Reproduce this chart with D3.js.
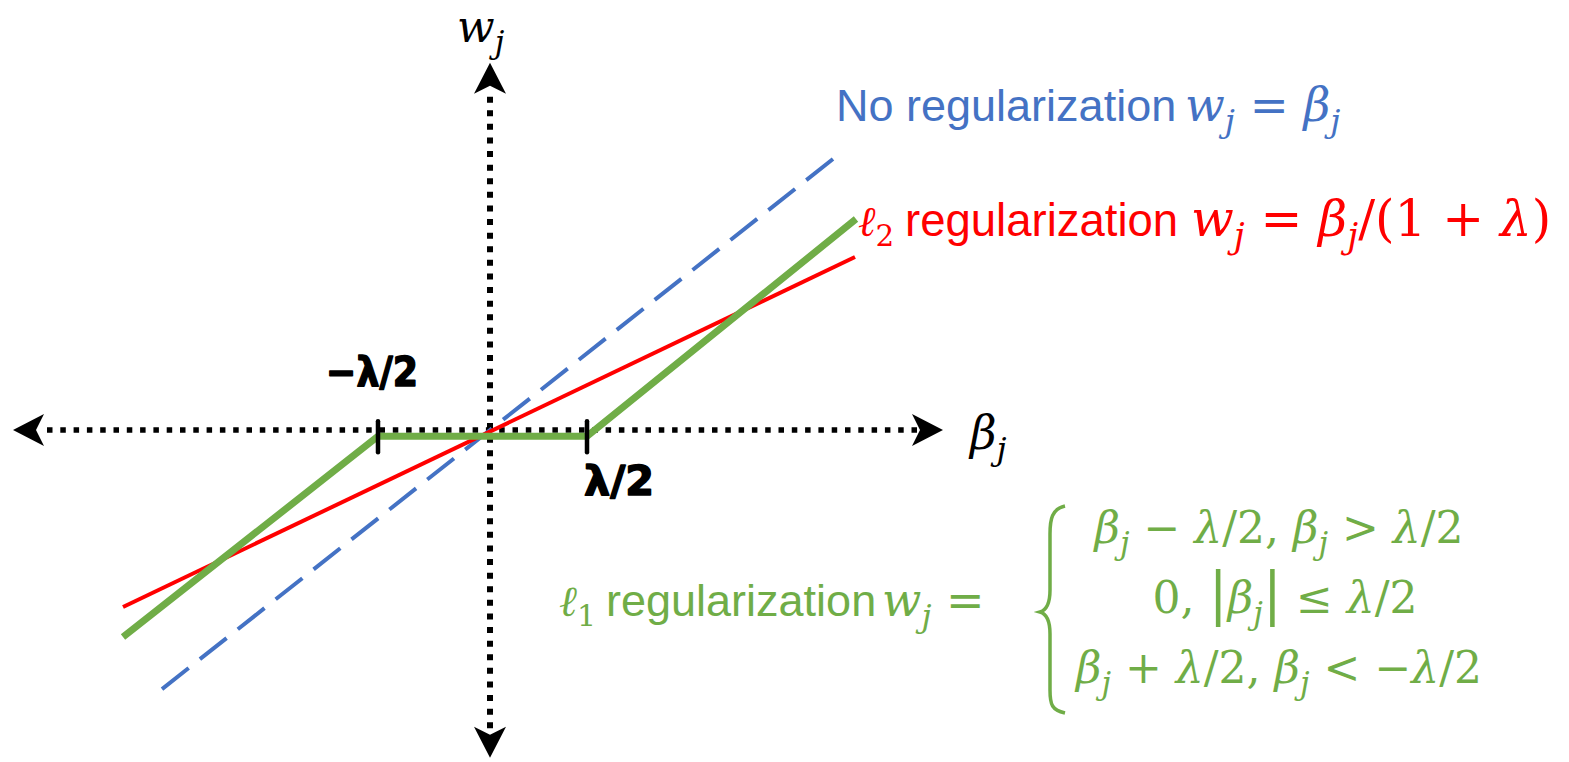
<!DOCTYPE html>
<html>
<head>
<meta charset="utf-8">
<script src="https://cdn.jsdelivr.net/npm/d3@7"></script>
<style>
  html, body { margin: 0; padding: 0; background: #ffffff; }
  svg { display: block; }
</style>
</head>
<body>
<svg id="chart" width="1569" height="762"></svg>
<script>
// ---- data (β on the horizontal axis, w on the vertical axis) ----
const noRegLine   = [[-3.28, -3.28], [3.44, 3.44]];
const ridgeLine   = [[-3.67, -2.24], [3.65, 2.19]];
const lassoLine   = [[-3.67, -2.62], [-1.12, -0.08], [0.97, -0.08], [3.66, 2.67]];
const tickValues  = [-1.12, 0.97];
const tickLabels  = ["−λ/2", "λ/2"];
const axisXExtent = [-4.77, 4.53];
const axisYExtent = [-4.15, 4.65];

const COLORS = { blue: "#4472C4", red: "#FF0000", green: "#70AD47", ink: "#000000" };
const SANS = "'Liberation Sans', Arial, sans-serif";
const MATH = "'DejaVu Serif', 'Liberation Serif', serif";
const HAND = "'DejaVu Sans', sans-serif";

const svg = d3.select("#chart");

// scales: origin of the plot sits where the two axes cross
const x = d3.scaleLinear().domain([0, 1]).range([490, 590]);
const y = d3.scaleLinear().domain([0, 1]).range([430, 351]);

// ---- arrow-tipped dotted axes ----
function arrowHead(tx, ty, angle) {
  // notched arrow head pointing in direction `angle` (radians)
  const L = 31, H = 16, N = 8;
  const c = Math.cos(angle), s = Math.sin(angle);
  const pt = (u, v) => [tx - u * c - v * s, ty - u * s + v * c];
  const p = [pt(0, 0), pt(L, -H), pt(L - N, 0), pt(L, H)];
  return "M" + p.map(d => d.join(",")).join("L") + "Z";
}

const axes = svg.append("g").attr("class", "axes");
const x0 = x(axisXExtent[0]), x1 = x(axisXExtent[1]);
const y0 = y(axisYExtent[0]), y1 = y(axisYExtent[1]);

axes.append("line")
  .attr("x1", x0 + 34).attr("x2", x1 - 24)
  .attr("y1", y(0)).attr("y2", y(0))
  .attr("stroke", COLORS.ink).attr("stroke-width", 5.5)
  .attr("stroke-dasharray", "5.5,7.8");
axes.append("line")
  .attr("x1", x(0)).attr("x2", x(0))
  .attr("y1", y1 + 34).attr("y2", y0 - 26)
  .attr("stroke", COLORS.ink).attr("stroke-width", 6)
  .attr("stroke-dasharray", "6,7.6");

axes.append("path").attr("d", arrowHead(x0, y(0), Math.PI)).attr("fill", COLORS.ink);
axes.append("path").attr("d", arrowHead(x1, y(0), 0)).attr("fill", COLORS.ink);
axes.append("path").attr("d", arrowHead(x(0), y1, -Math.PI / 2)).attr("fill", COLORS.ink);
axes.append("path").attr("d", arrowHead(x(0), y0, Math.PI / 2)).attr("fill", COLORS.ink);

// ---- lines ----
const line = d3.line().x(d => x(d[0])).y(d => y(d[1]));

svg.append("path").datum(noRegLine)
  .attr("d", line).attr("fill", "none")
  .attr("stroke", COLORS.blue).attr("stroke-width", 4)
  .attr("stroke-dasharray", "34,14.3");

svg.append("path").datum(ridgeLine)
  .attr("d", line).attr("fill", "none")
  .attr("stroke", COLORS.red).attr("stroke-width", 4);

svg.append("path").datum(lassoLine)
  .attr("d", line).attr("fill", "none")
  .attr("stroke", COLORS.green).attr("stroke-width", 7)
  .attr("stroke-linejoin", "miter");

// ---- ±λ/2 ticks and hand-lettered labels ----
const flatW = lassoLine[1][1];
svg.selectAll("line.tick").data(tickValues).join("line")
  .attr("class", "tick")
  .attr("x1", d => x(d)).attr("x2", d => x(d))
  .attr("y1", y(flatW) - 15).attr("y2", y(flatW) + 16)
  .attr("stroke", COLORS.ink).attr("stroke-width", 4.5)
  .attr("stroke-linecap", "round");

svg.selectAll("text.ticklab").data(tickValues).join("text")
  .attr("class", "ticklab")
  .attr("x", (d, i) => i === 0 ? x(d) - 52 : x(d) - 3)
  .attr("y", (d, i) => i === 0 ? 386 : 495)
  .attr("font-family", HAND).attr("font-weight", "bold")
  .attr("font-size", 40)
  .attr("textLength", (d, i) => i === 0 ? 92 : 70)
  .attr("lengthAdjust", "spacingAndGlyphs")
  .attr("fill", COLORS.ink).attr("stroke", COLORS.ink).attr("stroke-width", 1.5)
  .attr("stroke-linejoin", "round")
  .text((d, i) => tickLabels[i]);

// ---- mixed text / math labels ----
// parts: [text, kind] where kind is "sans", "it" (math italic), "up" (math upright),
// "sub"/"subup" (subscript) or "big" (tall delimiter).
function richText(sel, xPos, yPos, color, size, parts, anchor) {
  const t = sel.append("text")
    .attr("x", xPos).attr("y", yPos)
    .attr("fill", color)
    .attr("text-anchor", anchor || "start");
  let shift = 0;
  parts.forEach(([str, kind]) => {
    const sp = t.append("tspan").text(str);
    let target = 0;
    if (kind === "sans") {
      sp.attr("font-family", SANS).attr("font-size", size);
    } else if (kind === "it") {
      sp.attr("font-family", MATH).attr("font-style", "italic").attr("font-size", size);
    } else if (kind === "up") {
      sp.attr("font-family", MATH).attr("font-size", size);
    } else if (kind === "sub") {
      sp.attr("font-family", MATH).attr("font-style", "italic").attr("font-size", size * 0.7);
      target = size * 0.24;
    } else if (kind === "subup") {
      sp.attr("font-family", MATH).attr("font-size", size * 0.7);
      target = size * 0.24;
    } else if (kind === "big") {
      sp.attr("font-family", MATH).attr("font-size", size * 1.3);
    }
    if (target !== shift) { sp.attr("dy", target - shift); shift = target; }
  });
  return t;
}

const M = 44;

// axis titles
richText(svg, 457, 42, COLORS.ink, 44, [["w", "it"], ["j", "sub"]]);
richText(svg, 970, 449, COLORS.ink, 46, [["β", "it"], ["j", "sub"]]);

// no regularization
richText(svg, 836, 121, COLORS.blue, 45, [["No regularization", "sans"]]);
richText(svg, 1185, 121, COLORS.blue, 46.5, [
  ["w", "it"], ["j", "sub"], [" = ", "up"], ["β", "it"], ["j", "sub"]
]);

// ℓ2
richText(svg, 858, 236, COLORS.red, 42, [["ℓ", "it"], ["2", "subup"]]);
richText(svg, 905, 236, COLORS.red, 45.5, [["regularization", "sans"]]);
richText(svg, 1191, 236, COLORS.red, 50, [
  ["w", "it"], ["j", "sub"], [" = ", "up"], ["β", "it"], ["j", "sub"],
  ["/(1 + ", "up"], ["λ", "it"], [")", "up"]
]);

// ℓ1
richText(svg, 559, 616, COLORS.green, 43, [["ℓ", "it"], ["1", "subup"]]);
richText(svg, 606, 616, COLORS.green, 45, [["regularization", "sans"]]);
richText(svg, 882, 616, COLORS.green, 46, [
  ["w", "it"], ["j", "sub"], [" =", "up"]
]);

svg.append("path")
  .attr("d", "M1065,506 C1052,509 1050,519 1050,534 L1050,590 C1050,603 1047,610 1040,612 " +
             "C1047,614 1050,621 1050,634 L1050,690 C1050,705 1052,710 1065,713")
  .attr("fill", "none").attr("stroke", COLORS.green).attr("stroke-width", 3.5);

richText(svg, 1279, 543, COLORS.green, M, [
  ["β", "it"], ["j", "sub"], [" − ", "up"], ["λ", "it"], ["/2, ", "up"],
  ["β", "it"], ["j", "sub"], [" > ", "up"], ["λ", "it"], ["/2", "up"]
], "middle");

richText(svg, 1285, 613, COLORS.green, M, [
  ["0, ", "up"], ["|", "big"], ["β", "it"], ["j", "sub"], ["|", "big"],
  [" ≤ ", "up"], ["λ", "it"], ["/2", "up"]
], "middle");

richText(svg, 1279, 683, COLORS.green, M, [
  ["β", "it"], ["j", "sub"], [" + ", "up"], ["λ", "it"], ["/2, ", "up"],
  ["β", "it"], ["j", "sub"], [" < −", "up"], ["λ", "it"], ["/2", "up"]
], "middle");
</script>
</body>
</html>
